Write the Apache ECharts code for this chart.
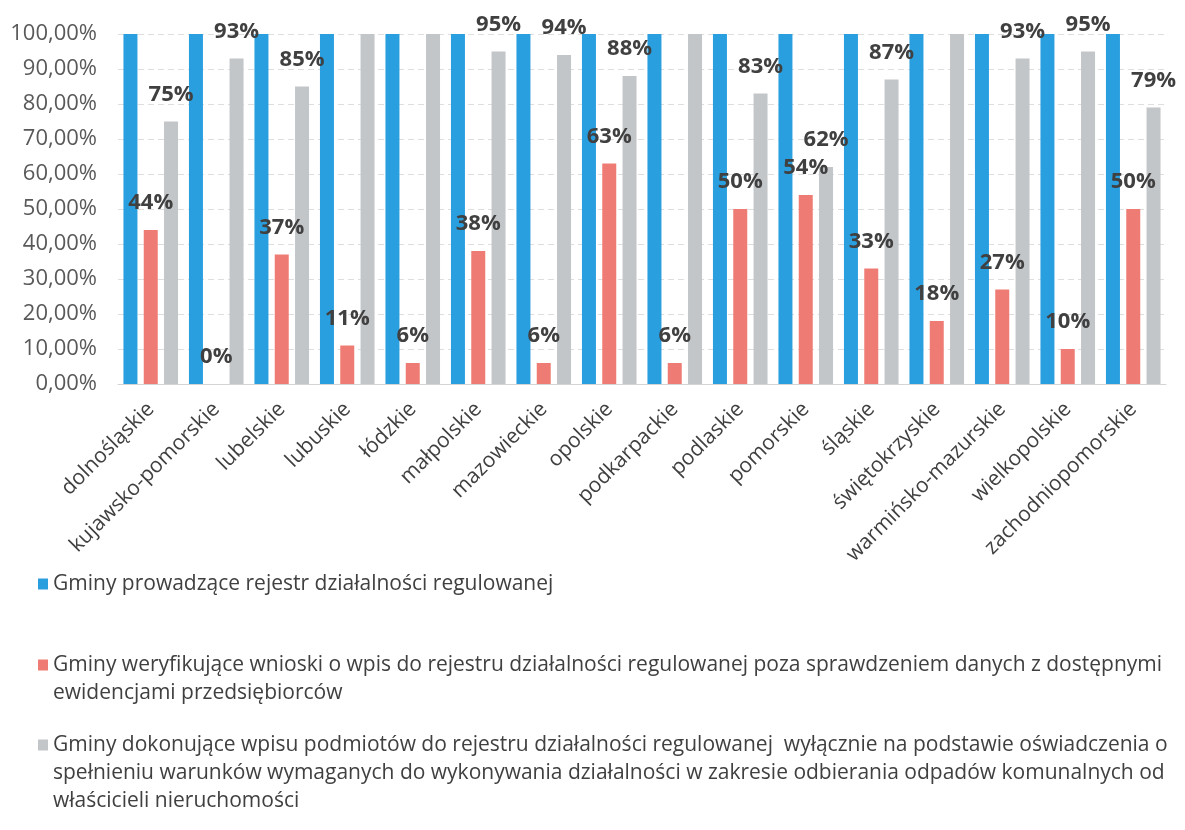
<!DOCTYPE html>
<html>
<head>
<meta charset="utf-8">
<script src="https://cdn.jsdelivr.net/npm/echarts@6/dist/echarts.min.js"></script>
<style>html,body{margin:0;padding:0;background:#fff;}#c{width:1185px;height:830px;}</style>
</head>
<body>
<div id="c"></div>
<script>
const categories = ['dolnośląskie','kujawsko-pomorskie','lubelskie','lubuskie','łódzkie','małpolskie','mazowieckie','opolskie','podkarpackie','podlaskie','pomorskie','śląskie','świętokrzyskie','warmińsko-mazurskie','wielkopolskie','zachodniopomorskie'];
const seriesNames = [
  'Gminy prowadzące rejestr działalności regulowanej',
  'Gminy weryfikujące wnioski o wpis do rejestru działalności regulowanej poza sprawdzeniem danych z dostępnymi\newidencjami przedsiębiorców',
  'Gminy dokonujące wpisu podmiotów do rejestru działalności regulowanej  wyłącznie na podstawie oświadczenia o\nspełnieniu warunków wymaganych do wykonywania działalności w zakresie odbierania odpadów komunalnych od\nwłaścicieli nieruchomości'
];
const prowadzace = [1,1,1,1,1,1,1,1,1,1,1,1,1,1,1,1];
const weryfikujace = [0.44,0,0.37,0.11,0.06,0.38,0.06,0.63,0.06,0.50,0.54,0.33,0.18,0.27,0.10,0.50];
const oswiadczenie = [0.75,0.93,0.85,1,1,0.95,0.94,0.88,1,0.83,0.62,0.87,1,0.93,0.95,0.79];

const colors = ['#2a9fe0','#ef7c74','#c3c6c9'];
const FONT = 'Open Sans';
const LH = 28;

function iconPath(lines){
  const h = LH*lines;
  return 'path://M0,8.5h10v11h-10Z M0,0h0.05v0.05h-0.05Z M0,' + (h-0.05) + 'h0.05v0.05h-0.05Z';
}

const labelCfg = {
  show: true,
  position: 'top',
  distance: 16,
  fontFamily: FONT,
  fontWeight: 'bold',
  fontSize: 22,
  color: '#404040',
  formatter: p => p.value >= 1 ? '' : Math.round(p.value*100) + '%'
};

const legendTops = [570, 651, 731];
const legendLines = [1,2,3];
const legends = seriesNames.map((n,i) => ({
  data: [{name: n, icon: iconPath(legendLines[i])}],
  left: 38, top: legendTops[i], padding: 0,
  itemWidth: 10, itemHeight: LH*legendLines[i], itemGap: 0,
  selectedMode: false,
  textStyle: {fontFamily: FONT, fontSize: 21, color: '#404040', lineHeight: LH}
}));

const chart = echarts.init(document.getElementById('c'), null, {renderer: 'canvas'});
chart.setOption({
  animation: false,
  color: colors,
  legend: legends,
  grid: {left: 118, right: 19, top: 34, bottom: 446, containLabel: false},
  xAxis: {
    type: 'category',
    data: categories,
    axisLine: {lineStyle: {color: '#d4d4d4'}},
    axisTick: {show: false},
    axisLabel: {rotate: 45, interval: 0, margin: 22, fontFamily: FONT, fontSize: 21, color: '#404040'}
  },
  yAxis: {
    type: 'value',
    min: 0, max: 1, interval: 0.1,
    axisLine: {show: false},
    axisTick: {show: false},
    splitLine: {lineStyle: {color: '#dedede', type: [6,4]}},
    axisLabel: {margin: 21, fontFamily: FONT, fontSize: 22, color: '#595959',
      formatter: v => (v*100).toFixed(2).replace('.', ',') + '%'}
  },
  series: [
    {name: seriesNames[0], type: 'bar', data: prowadzace, barWidth: 14, barGap: '45%'},
    {name: seriesNames[1], type: 'bar', data: weryfikujace, barWidth: 14, barGap: '45%', label: labelCfg},
    {name: seriesNames[2], type: 'bar', data: oswiadczenie, barWidth: 14, barGap: '45%', label: labelCfg}
  ]
});
</script>
</body>
</html>
